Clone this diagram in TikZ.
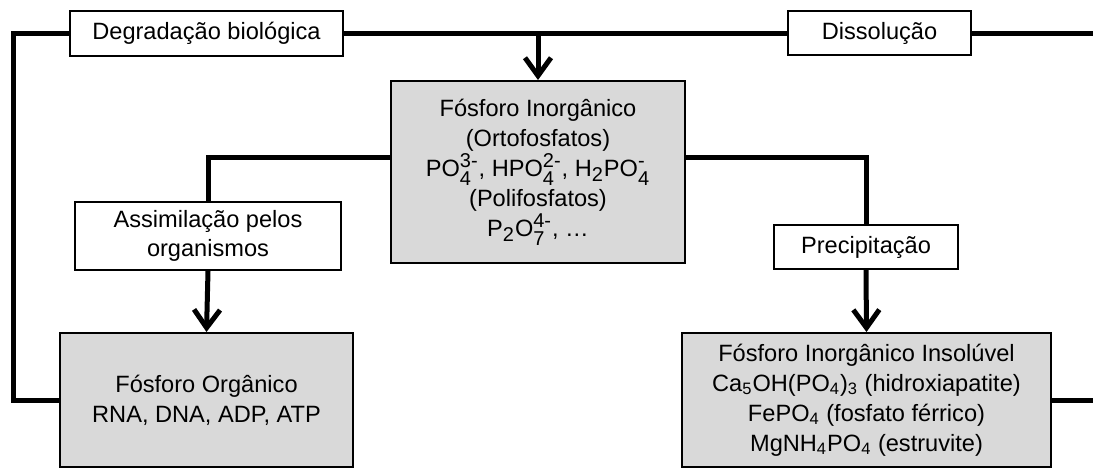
\documentclass[tikz,border=0pt]{standalone}
\usepackage{fontspec}
\setmainfont{Liberation Sans}
\usepackage{amsmath}
\usepackage{xcolor}
\colorlet{colPool}{black!15}
\usepackage{tikz}
\usetikzlibrary{arrows.meta, positioning, calc}
\newcommand{\ionsub}[2]{\ensuremath{{}_{\hbox{\fontsize{10}{10}\selectfont #1}}^{\hbox{\fontsize{10}{10}\selectfont #2}}}}
\newcommand{\bigsub}[1]{\ensuremath{{}_{\hbox{\fontsize{10}{10}\selectfont #1}}}}
\newcommand{\chsub}[1]{\ensuremath{{}_{\text{#1}}}}
\tikzset{
	poolbox/.style={draw, line width=1pt, fill=colPool, align=center, font=\fontsize{11.8}{15}\selectfont},
	procbox/.style={draw, line width=1pt, fill=white, align=center, font=\fontsize{11.8}{14.5}\selectfont},
	cycleline/.style={line width=2.5pt},
	cyclearr/.style={line width=2.5pt, -{Straight Barb[length=9pt, width=13pt]}},
}

\begin{document}
\begin{tikzpicture}[x=0.5pt, y=-0.5pt]
	\useasboundingbox (0,0) rectangle (1093,468);

	% Phosphorus pools
	\node[poolbox, minimum width=147pt, minimum height=91pt] (inorg) at (538,172)
		{Fósforo Inorgânico\\(Ortofosfatos)\\PO\ionsub{4}{3-}, HPO\ionsub{4}{2-}, H\bigsub{2}PO\ionsub{4}{-}\\(Polifosfatos)\\P\bigsub{2}O\ionsub{7}{4-}, \ldots};
	\node[poolbox, minimum width=146.5pt, minimum height=67pt] (org) at (206.5,400)
		{Fósforo Orgânico\\RNA, DNA, ADP, ATP};
	\node[poolbox, minimum width=184.5pt, minimum height=67pt] (insol) at (866.5,400)
		{Fósforo Inorgânico Insolúvel\\Ca\chsub{5}OH(PO\chsub{4})\chsub{3} (hidroxiapatite)\\FePO\chsub{4} (fosfato férrico)\\MgNH\chsub{4}PO\chsub{4} (estruvite)};

	% Process labels
	\node[procbox, minimum width=136.5pt, minimum height=22.5pt] (degr) at (206.5,33) {Degradação biológica};
	\node[procbox, minimum width=91.5pt, minimum height=22pt] (dissol) at (879.5,33) {Dissolução};
	\node[procbox, minimum width=133pt, minimum height=34pt] (assim) at (208,236) {Assimilação pelos\\organismos};
	\node[procbox, minimum width=92pt, minimum height=22pt] (precip) at (866,247) {Precipitação};

	% Loose ends at the right edge
	\coordinate (topend) at (1093,33);
	\coordinate (botend) at (1093,400);
	\coordinate (leftcorner) at (13,400);

	% Return loops
	\draw[cycleline] (org.west) -- (leftcorner) |- (degr.west);
	\draw[cycleline] (degr.east) -- (dissol.west);
	\draw[cycleline] (dissol.east) -- (topend);
	\draw[cycleline] (insol.east) -- (botend);
	\draw[cyclearr] (inorg.north |- degr.east) -- (inorg.north);

	% Branches from the soluble pool
	\draw[cycleline] ([yshift=7.5pt]inorg.west) -| (assim.north);
	\draw[cyclearr] (assim.south) -- (org.north);
	\draw[cycleline] ([yshift=7.5pt]inorg.east) -| (precip.north);
	\draw[cyclearr] (precip.south) -- (insol.north);
\end{tikzpicture}
\end{document}
